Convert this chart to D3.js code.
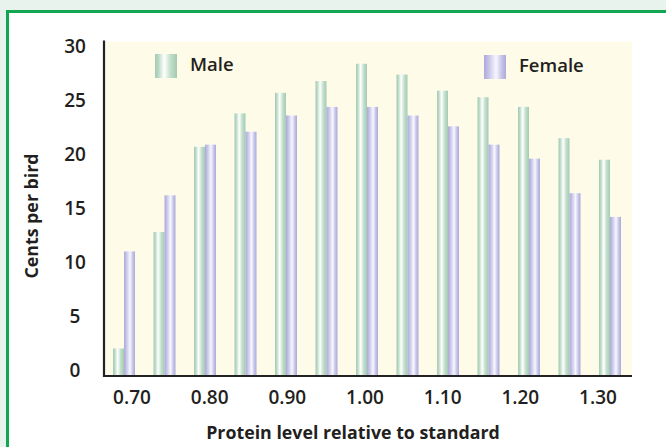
<!DOCTYPE html>
<html><head><meta charset="utf-8">
<script src="https://cdn.jsdelivr.net/npm/d3@7"></script>
<style>
html,body{margin:0;padding:0;background:#e9f3ed;}
svg{display:block;font-family:"Open Sans","DejaVu Sans",sans-serif;}
</style></head>
<body><svg id="c" width="666" height="447"></svg>
<script>
const categories = ["0.70","0.75","0.80","0.85","0.90","0.95","1.00","1.05","1.10","1.15","1.20","1.25","1.30"];
const maleValues   = [2.0, 12.8, 20.7, 23.8, 25.7, 26.8, 28.4, 27.4, 25.9, 25.3, 24.4, 21.5, 19.5];
const femaleValues = [11.0, 16.2, 20.9, 22.1, 23.6, 24.4, 24.4, 23.6, 22.6, 20.9, 19.6, 16.4, 14.2];
const xTickLabels = ["0.70","0.80","0.90","1.00","1.10","1.20","1.30"];
const yTickValues = [0, 5, 10, 15, 20, 25, 30];
const seriesNames = ["Male", "Female"];

const svg = d3.select("#c");
const defs = svg.append("defs");
function grad(id, stops){
  const g = defs.append("linearGradient").attr("id", id).attr("x1","0").attr("x2","1").attr("y1","0").attr("y2","0");
  stops.forEach(s => g.append("stop").attr("offset", s[0]).attr("stop-color", s[1]));
}
grad("gMale", [[0,"#a3cbb2"],[0.15,"#b8d8c3"],[0.42,"#ffffff"],[0.7,"#c3dfcc"],[1,"#a3cbb2"]]);
grad("gFemale", [[0,"#ada9da"],[0.2,"#c4c2e6"],[0.55,"#f7f7ff"],[0.8,"#c6c4e8"],[1,"#ada9da"]]);

// panel: white with green border
svg.append("rect").attr("x", 7.5).attr("y", 11.5).attr("width", 680).attr("height", 460)
  .attr("fill", "#ffffff").attr("stroke", "#12a650").attr("stroke-width", 3);

const plotL = 104, plotR = 632, plotT = 41.5, axisY = 376;
const y = d3.scaleLinear().domain([-0.55, 30]).range([axisY, 46.5]);
const x = d3.scalePoint().domain(categories).range([124, 610]);
const xt = d3.scaleLinear().domain([0.70, 1.30]).range([132, 598]);
const barW = 11;

svg.append("rect").attr("x", plotL).attr("y", plotT).attr("width", plotR - plotL).attr("height", axisY - plotT)
  .attr("fill", "#fefbe8");

const data = categories.map((c, i) => ({c, m: maleValues[i], f: femaleValues[i]}));
const g = svg.append("g");
g.selectAll("rect.m").data(data).join("rect").attr("class","m")
  .attr("x", d => x(d.c) - barW).attr("width", barW)
  .attr("y", d => y(d.m)).attr("height", d => axisY - y(d.m))
  .attr("fill", "url(#gMale)");
g.selectAll("rect.f").data(data).join("rect").attr("class","f")
  .attr("x", d => x(d.c)).attr("width", barW)
  .attr("y", d => y(d.f)).attr("height", d => axisY - y(d.f))
  .attr("fill", "url(#gFemale)");

// axes lines
svg.append("line").attr("x1", plotL).attr("x2", plotL).attr("y1", 40.5).attr("y2", axisY + 1)
  .attr("stroke", "#222").attr("stroke-width", 2.2);
svg.append("line").attr("x1", plotL - 1).attr("x2", plotR).attr("y1", axisY).attr("y2", axisY)
  .attr("stroke", "#222").attr("stroke-width", 2.2);

// y tick labels
svg.append("g").selectAll("text").data(yTickValues).join("text")
  .attr("x", 75).attr("y", d => y(d)).attr("dy", "0.36em")
  .attr("text-anchor", "middle").attr("font-size", 19).attr("font-weight", 600)
  .attr("fill", "#231f20").text(d => d);

// x tick labels
svg.append("g").selectAll("text").data(xTickLabels).join("text")
  .attr("x", d => xt(+d)).attr("y", 397).attr("dy", "0.36em")
  .attr("text-anchor", "middle").attr("font-size", 19).attr("font-weight", 600)
  .attr("fill", "#231f20").text(d => d);

// axis titles
svg.append("text").attr("x", 353).attr("y", 433).attr("dy", "0.36em")
  .attr("text-anchor", "middle").attr("font-size", 17.8).attr("font-weight", 700)
  .attr("fill", "#231f20").text("Protein level relative to standard");
svg.append("text").attr("transform", "translate(32,216) rotate(-90)").attr("dy", "0.36em")
  .attr("text-anchor", "middle").attr("font-size", 17.8).attr("font-weight", 700)
  .attr("fill", "#231f20").text("Cents per bird");

// legend
const legend = [
  {name: seriesNames[0], fill: "url(#gMale)", sx: 155, ty: 64},
  {name: seriesNames[1], fill: "url(#gFemale)", sx: 484, ty: 65}
];
legend.forEach(l => {
  svg.append("rect").attr("x", l.sx).attr("y", l.ty - 10).attr("width", 22).attr("height", 24).attr("fill", l.fill);
  svg.append("text").attr("x", l.sx + 35).attr("y", l.ty).attr("dy", "0.36em")
    .attr("font-size", 18.5).attr("font-weight", 600).attr("fill", "#231f20").text(l.name);
});
</script></body></html>
